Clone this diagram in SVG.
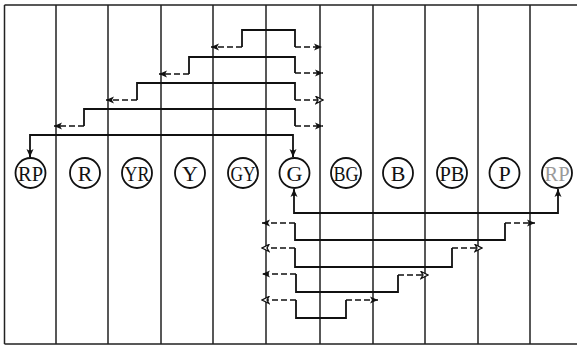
<svg xmlns="http://www.w3.org/2000/svg" width="577" height="346" viewBox="0 0 577 346">
<style>
.grid{stroke:#222;stroke-width:1.5;fill:none}
.solid{stroke:#111;stroke-width:1.8;fill:none}
.dash{stroke:#111;stroke-width:1.5;fill:none;stroke-dasharray:6 3}
.circ{fill:#fff;stroke:#111;stroke-width:1.8}
.lbl{font-family:"Liberation Serif","DejaVu Serif",serif;font-size:22px;fill:#111;text-anchor:middle}
.ghost{fill:#9a9a9a}
</style>
<defs>
<marker id="af" viewBox="0 0 8 8" refX="8" refY="4" markerWidth="8" markerHeight="8" markerUnits="userSpaceOnUse" orient="auto">
<path d="M0,0.5 L8,4 L0,7.5 L2,4 z" fill="#111"/>
</marker>
<marker id="ao" viewBox="0 0 9 9" refX="8" refY="4.5" markerWidth="9" markerHeight="9" markerUnits="userSpaceOnUse" orient="auto">
<path d="M1,1 L8,4.5 L1,8 L3,4.5 z" fill="#fff" stroke="#111" stroke-width="1.3"/>
</marker>
</defs>
<g id="grid">
<path class="grid" d="M4.5,5 H577 M4.5,344 H577 M4.5,5 V344 M56,5 V344 M108,5 V344 M161,5 V344 M213,5 V344 M266,5 V344 M320,5 V344 M373,5 V344 M425,5 V344 M478,5 V344 M530,5 V344"/>
</g>
<g id="connectors">
<path class="solid" d="M242,47 V30 H295 V47"/>
<path class="dash" d="M242,47 H211" marker-end="url(#af)"/>
<path class="dash" d="M295,47 H322" marker-end="url(#af)"/>
<path class="solid" d="M189,74 V57 H295 V73"/>
<path class="dash" d="M189,74 H159" marker-end="url(#af)"/>
<path class="dash" d="M295,73 H323" marker-end="url(#af)"/>
<path class="solid" d="M137,100 V83 H295 V100"/>
<path class="dash" d="M137,100 H106" marker-end="url(#af)"/>
<path class="dash" d="M295,100 H323" marker-end="url(#ao)"/>
<path class="solid" d="M84,126 V109 H295 V126"/>
<path class="dash" d="M84,126 H54" marker-end="url(#af)"/>
<path class="dash" d="M295,126 H323" marker-end="url(#af)"/>
<path class="solid" d="M30,157 V135 H293 V157"/>
<path class="solid" d="M30,150 V157" marker-end="url(#af)"/>
<path class="solid" d="M293,150 V157" marker-end="url(#af)"/>
<path class="solid" d="M294,190 V213 H558 V190"/>
<path class="solid" d="M294,196 V189" marker-end="url(#af)"/>
<path class="solid" d="M558,196 V189" marker-end="url(#af)"/>
<path class="solid" d="M295,223 V240 H505 V223"/>
<path class="dash" d="M295,223 H262" marker-end="url(#af)"/>
<path class="dash" d="M505,223 H535" marker-end="url(#af)"/>
<path class="solid" d="M295,248 V267 H452 V248"/>
<path class="dash" d="M295,248 H262" marker-end="url(#ao)"/>
<path class="dash" d="M452,248 H482" marker-end="url(#ao)"/>
<path class="solid" d="M296,274 V292 H398 V275"/>
<path class="dash" d="M296,274 H262" marker-end="url(#af)"/>
<path class="dash" d="M398,275 H428" marker-end="url(#ao)"/>
<path class="solid" d="M296,300 V318 H346 V300"/>
<path class="dash" d="M296,300 H262" marker-end="url(#ao)"/>
<path class="dash" d="M346,300 H378" marker-end="url(#af)"/>
</g>
<g id="n-RP1"><circle class="circ" cx="30.5" cy="173" r="15"/><text class="lbl" x="30.5" y="180.5" textLength="25" lengthAdjust="spacingAndGlyphs">RP</text></g>
<g id="n-R"><circle class="circ" cx="85" cy="173" r="15"/><text class="lbl" x="85" y="180.5">R</text></g>
<g id="n-YR"><circle class="circ" cx="137" cy="173" r="15"/><text class="lbl" x="137" y="180.5" textLength="25" lengthAdjust="spacingAndGlyphs">YR</text></g>
<g id="n-Y"><circle class="circ" cx="190" cy="173" r="15"/><text class="lbl" x="190" y="180.5">Y</text></g>
<g id="n-GY"><circle class="circ" cx="243" cy="173" r="15"/><text class="lbl" x="243" y="180.5" textLength="25" lengthAdjust="spacingAndGlyphs">GY</text></g>
<g id="n-G"><circle class="circ" cx="294.5" cy="173" r="15"/><text class="lbl" x="294.5" y="180.5">G</text></g>
<g id="n-BG"><circle class="circ" cx="346" cy="173" r="15"/><text class="lbl" x="346" y="180.5" textLength="25" lengthAdjust="spacingAndGlyphs">BG</text></g>
<g id="n-B"><circle class="circ" cx="398" cy="173" r="15"/><text class="lbl" x="398" y="180.5">B</text></g>
<g id="n-PB"><circle class="circ" cx="452" cy="173" r="15"/><text class="lbl" x="452" y="180.5" textLength="25" lengthAdjust="spacingAndGlyphs">PB</text></g>
<g id="n-P"><circle class="circ" cx="504.5" cy="173" r="15"/><text class="lbl" x="504.5" y="180.5">P</text></g>
<g id="n-RP2"><circle class="circ" cx="557" cy="173" r="15"/><text class="lbl ghost" x="557" y="180.5" textLength="25" lengthAdjust="spacingAndGlyphs">RP</text></g>
</svg>
